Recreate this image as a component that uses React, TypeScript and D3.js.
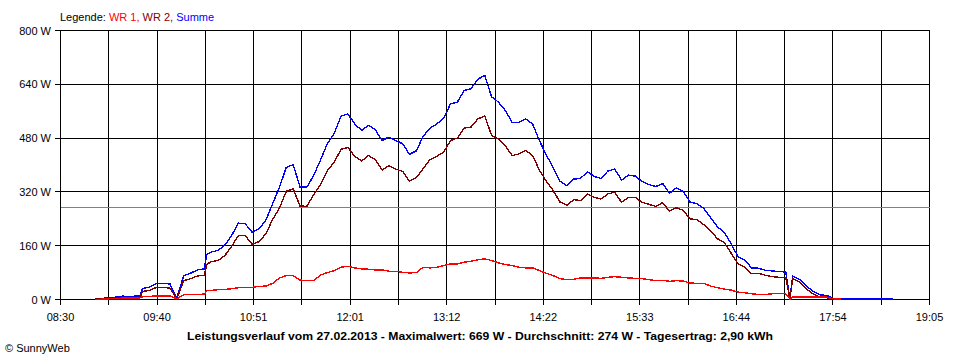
import React from "react";
import * as d3 from "d3";

const times = [
  "08:55","09:00","09:05","09:10","09:15","09:20","09:25","09:28","09:30","09:35","09:40",
  "09:45","09:50","09:55","10:00","10:05","10:10","10:15","10:17","10:20","10:25","10:30",
  "10:35","10:40","10:45","10:50","10:55","11:00","11:05","11:10","11:15","11:20",
  "11:25","11:30","11:35","11:40","11:45","11:50","11:55","12:00","12:05","12:10",
  "12:15","12:20","12:25","12:30","12:35","12:40","12:45","12:50","12:55","13:00",
  "13:05","13:10","13:15","13:20","13:25","13:30","13:35","13:40","13:45","13:50",
  "13:55","14:00","14:05","14:10","14:15","14:20","14:25","14:30","14:35","14:40",
  "14:45","14:50","14:55","15:00","15:05","15:10","15:15","15:20","15:25","15:30",
  "15:35","15:40","15:45","15:50","15:55","16:00","16:05","16:10","16:15","16:20",
  "16:25","16:30","16:35","16:40","16:45","16:50","16:55","17:00","17:05","17:10",
  "17:15","17:20","17:23","17:25","17:30","17:35","17:40","17:45","17:50","17:55",
  "18:00","18:05","18:10","18:15","18:20","18:25","18:30","18:35","18:38"
];

const summe = [
  1,3,5,7,10,9,10,11,33,37,48,
  48,46,4,71,78,88,91,134,141,146,161,
  190,227,225,200,210,235,285,334,393,401,
  335,334,369,415,464,494,545,552,522,503,
  518,505,473,483,473,463,432,442,485,510,
  522,539,582,587,622,627,655,667,603,587,
  562,527,527,537,522,472,430,392,352,338,
  358,360,380,366,360,382,388,355,370,367,
  351,342,336,345,316,332,322,290,285,271,
  244,216,200,166,128,117,94,93,87,85,
  83,82,1,70,60,40,24,14,12,3,
  2,2,2,2,2,1,1,1,1
];

const wr2 = [
  1,2,3,4,5,5,5,6,24,27,36,
  36,34,2,56,62,70,72,105,112,116,130,
  158,190,190,164,172,195,238,272,322,329,
  278,277,312,342,384,408,447,452,426,412,
  428,416,385,398,388,381,352,362,389,416,
  426,438,473,480,510,513,537,546,488,478,
  458,428,433,443,428,384,352,324,290,280,
  297,294,314,304,299,314,319,289,304,304,
  289,283,277,288,263,273,265,240,237,223,
  204,181,169,138,106,97,77,78,72,68,
  66,65,1,62,52,32,16,7,5,1,
  0,null,null,null,null,null,null,null,null
];

const wr1 = [
  0,1,2,3,4,4,5,5,8,9,11,
  11,11,2,14,14,15,16,26,27,29,30,
  32,35,35,36,39,40,48,64,71,71,
  58,56,56,73,80,86,96,99,94,91,
  90,88,88,84,84,81,79,80,96,94,
  96,101,106,106,111,114,118,121,116,109,
  104,101,96,94,94,86,78,71,62,59,
  60,64,64,64,63,66,68,66,64,63,
  62,59,56,57,54,56,55,49,48,48,
  40,35,31,28,22,20,17,15,15,17,
  17,17,1,8,8,8,8,7,7,2,
  1,null,null,null,null,null,null,null,null
];

const xTickLabels = ["08:30","09:40","10:51","12:01","13:12","14:22","15:33","16:44","17:54","19:05"];
const yTicks = [0, 160, 320, 480, 640, 800];
const average = 274;
const legendItems = [
  { label: "WR 1, ", color: "#ff0000" },
  { label: "WR 2, ", color: "#800000" },
  { label: "Summe", color: "#0000ff" },
];
const title = "Leistungsverlauf vom 27.02.2013 - Maximalwert: 669 W - Durchschnitt: 274 W - Tagesertrag: 2,90 kWh";
const copyright = "\u00A9 SunnyWeb";

const FONT = "'Liberation Sans', Arial, sans-serif";

const toMin = (s: string) => {
  const [h, m] = s.split(":").map(Number);
  return h * 60 + m;
};

export default function App() {
  const x = d3.scaleLinear().domain([toMin("08:30"), toMin("19:05")]).range([60.5, 929.5]);
  const y = d3.scaleLinear().domain([0, 800]).range([299.5, 30.5]);
  const [d0, d1] = x.domain();
  const gridCount = (xTickLabels.length - 1) * 2;
  const gridTimes = d3.range(gridCount + 1).map((i) => d0 + (i * (d1 - d0)) / gridCount);

  const mk = (vals: (number | null)[]) =>
    times.map((t, i) => ({ t: toMin(t), v: vals[i] }));
  const line = d3
    .line<{ t: number; v: number | null }>()
    .defined((d) => d.v != null)
    .x((d) => x(d.t))
    .y((d) => y(d.v as number));

  const series = [
    { data: mk(summe), color: "#0000ff" },
    { data: mk(wr2), color: "#800000" },
    { data: mk(wr1), color: "#ff0000" },
  ];

  return (
    <svg
      width={960}
      height={360}
      style={{ position: "absolute", left: 0, top: 0, background: "#fff" }}
      fontFamily={FONT}
      fontSize={11}
    >
      <rect x={0} y={0} width={960} height={360} fill="#fff" />
      <text x={60} y={21} fill="#000">
        Legende:{" "}
        {legendItems.map((l) => (
          <tspan key={l.label} fill={l.color}>{l.label}</tspan>
        ))}
      </text>
      <g stroke="#000" strokeWidth={1} shapeRendering="crispEdges">
        {yTicks.map((v) => (
          <line key={"h" + v} x1={55} x2={929.5} y1={y(v)} y2={y(v)} />
        ))}
        {gridTimes.map((t, i) => (
          <line key={"v" + i} x1={x(t)} x2={x(t)} y1={30.5} y2={305} />
        ))}
      </g>
      <line
        x1={60.5}
        x2={929.5}
        y1={y(average)}
        y2={y(average)}
        stroke="#808080"
        strokeWidth={1}
        shapeRendering="crispEdges"
      />
      {yTicks.map((v) => (
        <text key={"yl" + v} x={51} y={y(v) + 4} textAnchor="end" fill="#000">
          {v} W
        </text>
      ))}
      {xTickLabels.map((lab, i) => (
        <text key={"xl" + i} x={x(gridTimes[i * 2])} y={320.5} textAnchor="middle" fill="#000">
          {lab}
        </text>
      ))}
      {series.map((s, i) => (
        <path
          key={i}
          d={line(s.data) || ""}
          fill="none"
          stroke={s.color}
          strokeWidth={1.4}
          strokeLinejoin="miter"
          shapeRendering="crispEdges"
        />
      ))}
      <text
        x={480}
        y={340}
        textAnchor="middle"
        fontWeight="bold"
        fill="#000"
        textLength={586}
        lengthAdjust="spacingAndGlyphs"
      >
        {title}
      </text>
      <text x={5} y={352} fill="#000">
        {copyright}
      </text>
    </svg>
  );
}
